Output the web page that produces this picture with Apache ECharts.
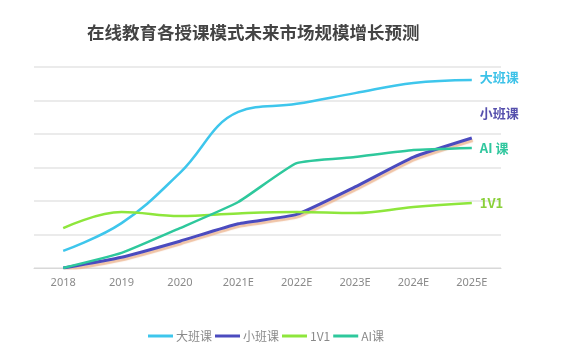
<!DOCTYPE html>
<html>
<head>
<meta charset="utf-8">
<script src="https://cdn.jsdelivr.net/npm/echarts@6/dist/echarts.min.js"></script>
<style>html,body{margin:0;padding:0;background:#fff}#c{width:566px;height:356px}</style>
</head>
<body>
<div id="c"></div>
<script>
var categories = ['2018', '2019', '2020', '2021E', '2022E', '2023E', '2024E', '2025E'];
var bigClass = [0.51, 1.34, 2.84, 4.66, 4.9, 5.22, 5.52, 5.61];
var smallClass = [0, 0.32, 0.8, 1.32, 1.6, 2.42, 3.31, 3.88];
var oneOnOne = [1.19, 1.67, 1.55, 1.63, 1.67, 1.64, 1.82, 1.94];
var aiClass = [0, 0.45, 1.19, 1.97, 3.13, 3.31, 3.52, 3.58];
var seriesNames = ['大班课', '小班课', '1V1', 'AI课'];
var endLabels = ['大班课', '小班课', '1V1', 'AI 课'];

var chart = echarts.init(document.getElementById('c'));
function mk(i, data, color, labelColor, offset, smooth, width, extra) {
  return {
    name: seriesNames[i], type: 'line', data: data, smooth: smooth,
    showSymbol: false, symbol: 'none',
    lineStyle: Object.assign({ color: color, width: width }, extra || {}),
    itemStyle: { color: color },
    endLabel: { show: true, formatter: endLabels[i], color: labelColor, fontSize: 13,
      fontWeight: 'bold', fontFamily: 'Noto Sans CJK SC', offset: offset, distance: 6 },
    emphasis: { disabled: true }
  };
}
chart.setOption({
  animation: false,
  title: { text: '在线教育各授课模式未来市场规模增长预测', left: 82, top: 19,
    textStyle: { fontSize: 17.5, fontWeight: 'bold', color: '#444', fontFamily: 'Noto Sans CJK SC' } },
  legend: { left: 143, top: 325, icon: 'rect', itemWidth: 25, itemHeight: 3, itemGap: 3,
    textStyle: { color: '#8a8a8a', fontSize: 12, fontFamily: 'Noto Sans CJK SC', padding: [0, 0, 0, -2] },
    data: seriesNames },
  grid: { left: 34, right: 65, top: 67, bottom: 88 },
  xAxis: { type: 'category', data: categories, boundaryGap: true,
    axisLine: { lineStyle: { color: '#d8d8d8' } },
    axisTick: { lineStyle: { color: '#d8d8d8' }, length: 4 },
    axisLabel: { color: '#8a8a8a', fontSize: 11, margin: 9, fontFamily: 'Noto Sans' } },
  yAxis: { type: 'value', min: 0, max: 6, interval: 1,
    axisLabel: { show: false }, axisLine: { show: false }, axisTick: { show: false },
    splitLine: { lineStyle: { color: '#e4e4e4', width: 1.5 } } },
  series: [
    mk(0, bigClass, '#3ec6ec', '#3cc2e8', [2, -3], 0.4, 2.5),
    mk(1, smallClass, '#4b4bbf', '#5650ad', [2, -25], 0.15, 3,
      { shadowColor: 'rgba(235,175,135,0.75)', shadowBlur: 1, shadowOffsetY: 2.5, shadowOffsetX: 1 }),
    mk(2, oneOnOne, '#8ee63c', '#8ad03a', [2, 0], 0.4, 2.5),
    mk(3, aiClass, '#2ec89c', '#30c79e', [2, 0], 0.15, 2.5)
  ]
});
</script>
</body>
</html>
